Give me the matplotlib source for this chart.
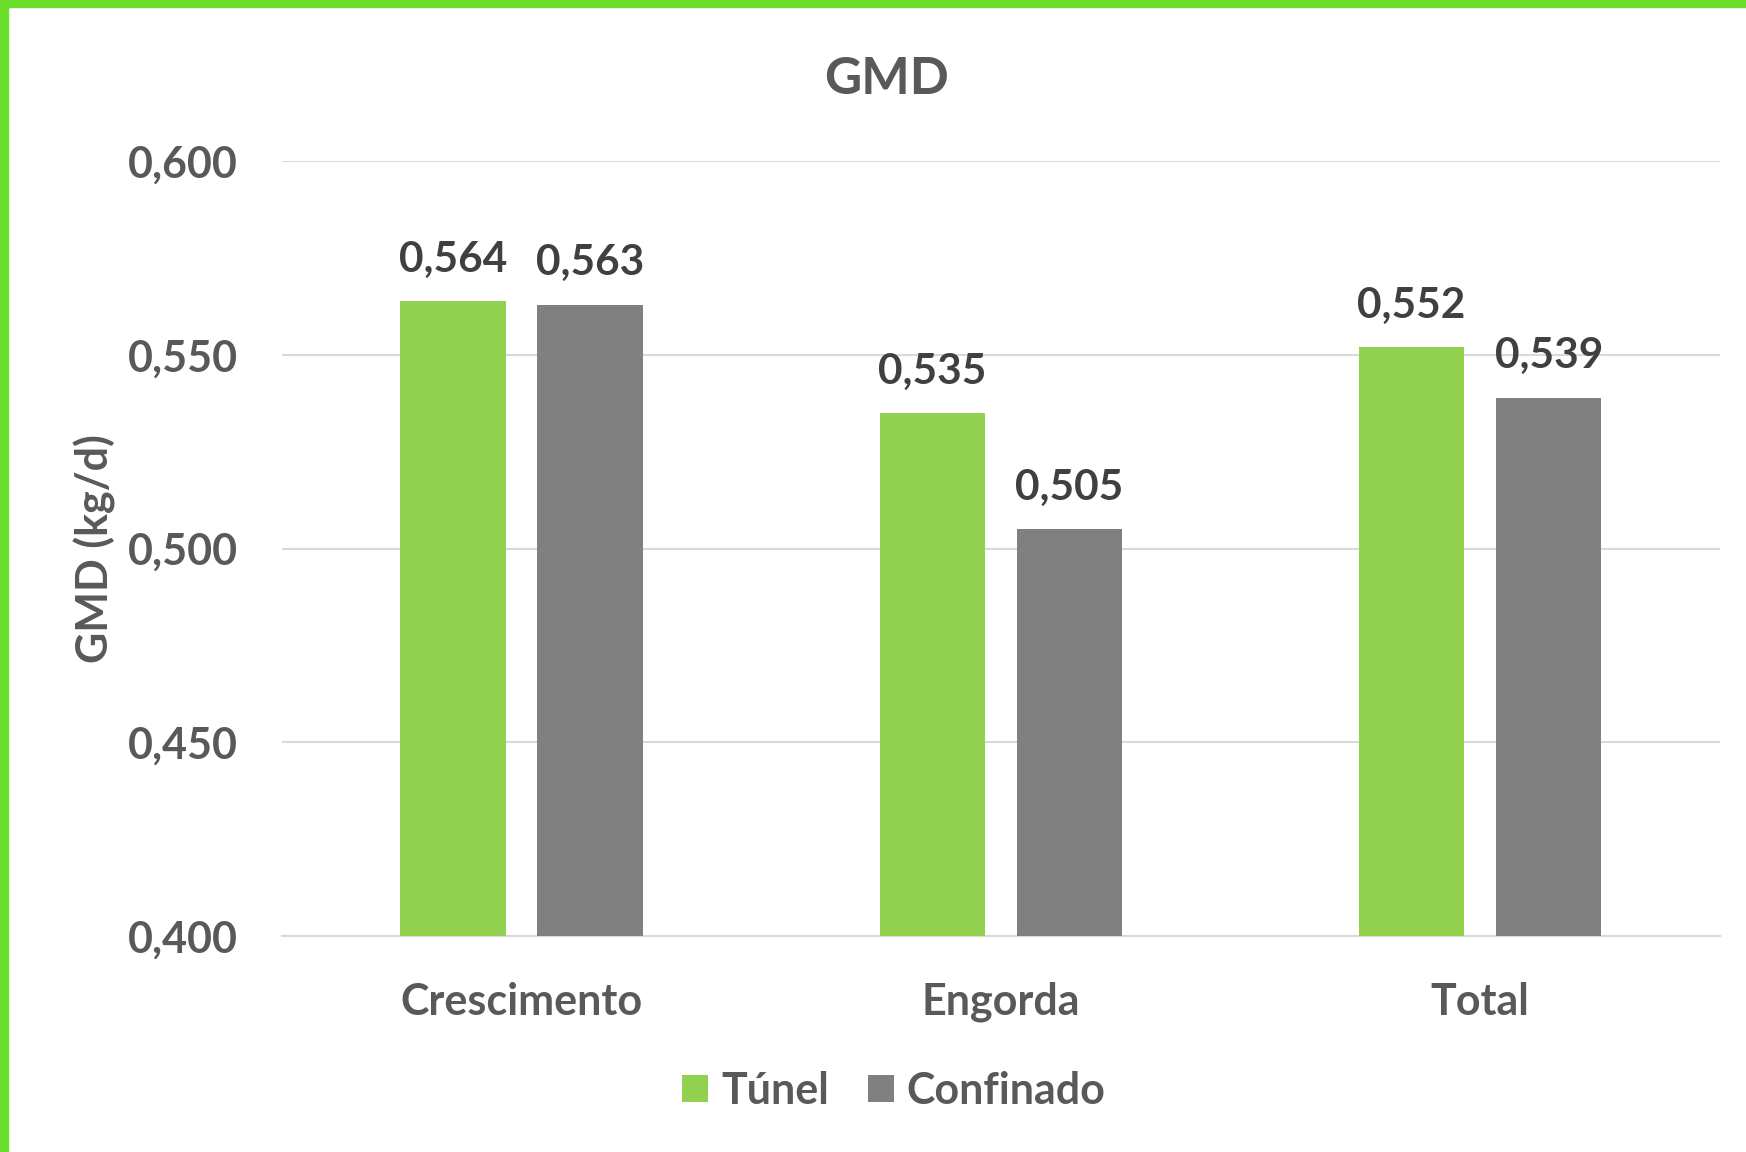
import numpy as np
import matplotlib.pyplot as plt
from matplotlib.patches import Rectangle

categories = ['Crescimento', 'Engorda', 'Total']
tunel = [0.564, 0.535, 0.552]
confinado = [0.563, 0.505, 0.539]
yticks = [0.400, 0.450, 0.500, 0.550, 0.600]

plt.rcParams['font.family'] = ['Lato', 'DejaVu Sans']

fig = plt.figure(figsize=(17.46, 11.52), dpi=100)
ax = fig.add_axes([0.1615, 0.1875, 0.8235, 0.6725])

x = np.arange(len(categories))
w = 0.22
off = 0.143
b1 = ax.bar(x - off, tunel, w, color='#92D050', label='Túnel', zorder=3)
b2 = ax.bar(x + off, confinado, w, color='#808080', label='Confinado', zorder=3)

def fmt(v):
    return f'{v:.3f}'.replace('.', ',')

for bars, vals in [(b1, tunel), (b2, confinado)]:
    for r, v in zip(bars, vals):
        ax.annotate(fmt(v), (r.get_x() + r.get_width() / 2, v),
                    xytext=(0, 16), textcoords='offset points',
                    ha='center', va='bottom', fontsize=30.5,
                    fontweight='bold', color='#404040')

ax.set_xlim(-0.5, 2.5)
ax.set_ylim(0.4, 0.6)
ax.set_yticks(yticks)
ax.set_yticklabels([fmt(t) for t in yticks], fontsize=31,
                   fontweight='bold', color='#595959')
ax.set_xticks(x)
ax.set_xticklabels(categories, fontsize=31, fontweight='bold', color='#595959')
ax.tick_params(length=0, axis='y', pad=32)
ax.tick_params(length=0, axis='x', pad=33)
ax.grid(axis='y', color='#D9D9D9', linewidth=1.5, zorder=0)
for s in ['top', 'right', 'left']:
    ax.spines[s].set_visible(False)
ax.spines['bottom'].set_color('#D9D9D9')
ax.spines['bottom'].set_linewidth(1.5)

ax.set_ylabel('GMD (kg/d)', fontsize=31, fontweight='bold', color='#595959',
              labelpad=8)
fig.text(0.508, 0.931, 'GMD', ha='center', va='center', fontsize=37,
         fontweight='bold', color='#595959')

ax.legend(loc='center', bbox_to_anchor=(0.4256, -0.2), ncol=2, frameon=False,
          handlelength=0.6, handleheight=0.6, handletextpad=0.3,
          columnspacing=0.9, prop={'weight': 'bold', 'size': 31})
for t in ax.get_legend().get_texts():
    t.set_color('#595959')

# green frame on top and left edge
fig.patches.append(Rectangle((0, 1 - 7 / 1152), 1, 7 / 1152,
                             transform=fig.transFigure, color='#6BE02A'))
fig.patches.append(Rectangle((0, 0), 8 / 1746, 1,
                             transform=fig.transFigure, color='#6BE02A'))

plt.savefig('out.png', dpi=100)
